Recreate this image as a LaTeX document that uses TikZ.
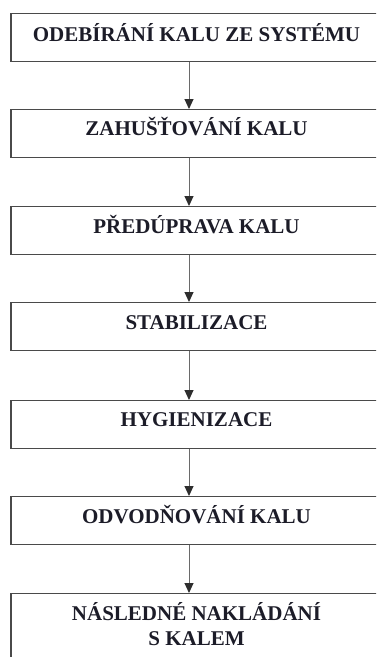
\documentclass[tikz,border=0pt]{standalone}
\usepackage{fontspec}
\setmainfont{Liberation Serif}
\usetikzlibrary{arrows.meta}
\definecolor{framegray}{HTML}{4A4A4A}
\definecolor{shaftgray}{HTML}{6A6A6A}
\definecolor{headgray}{HTML}{2E2E2E}
\definecolor{inkdark}{HTML}{1C1C28}
\begin{document}
\begin{tikzpicture}[x=1pt, y=-1pt,
  stagebox/.style={draw=framegray, line width=1.3pt, rectangle,
    minimum width=371pt, minimum height=48pt, inner sep=0pt, anchor=north},
  stagetext/.style={font=\fontsize{21}{25}\selectfont\bfseries, text=inkdark,
    inner sep=0pt, anchor=base, align=center},
  flow/.style={draw=shaftgray, line width=1pt,
    -{Triangle[width=9pt,length=10pt,fill=headgray,color=headgray]}}]
  \clip (0,0) rectangle (376,657);
  \fill[white] (0,0) rectangle (376,657);
  % process stages, top to bottom
  \node[stagebox] (b1) at (196.5,13) {};
  \node[stagebox] (b2) at (196.5,109) {};
  \node[stagebox] (b3) at (196.5,206) {};
  \node[stagebox] (b4) at (196.5,302) {};
  \node[stagebox] (b5) at (196.5,400) {};
  \node[stagebox] (b6) at (196.5,496) {};
  \node[stagebox, minimum height=90pt] (b7) at (196.5,593) {};
  % stage labels
  \node[stagetext] (t1) at ([yshift=-28pt]b1.north) {ODEBÍRÁNÍ KALU ZE SYSTÉMU};
  \node[stagetext] (t2) at ([yshift=-26pt]b2.north) {ZAHUŠŤOVÁNÍ KALU};
  \node[stagetext] (t3) at ([yshift=-27pt]b3.north) {PŘEDÚPRAVA KALU};
  \node[stagetext] (t4) at ([yshift=-27pt]b4.north) {STABILIZACE};
  \node[stagetext] (t5) at ([yshift=-26pt]b5.north) {HYGIENIZACE};
  \node[stagetext] (t6) at ([yshift=-27pt]b6.north) {ODVODŇOVÁNÍ KALU};
  \node[stagetext] (t7) at ([yshift=-27pt]b7.north) {NÁSLEDNÉ NAKLÁDÁNÍ};
  \node[stagetext] (t8) at ([yshift=-52pt]b7.north) {S KALEM};
  % arrows between stages
  \coordinate (axis) at (189,0);
  \foreach \a/\b in {b1/b2, b2/b3, b3/b4, b4/b5, b5/b6, b6/b7}
    \draw[flow] (\a.south -| axis) -- (\b.north -| axis);
\end{tikzpicture}
\end{document}
